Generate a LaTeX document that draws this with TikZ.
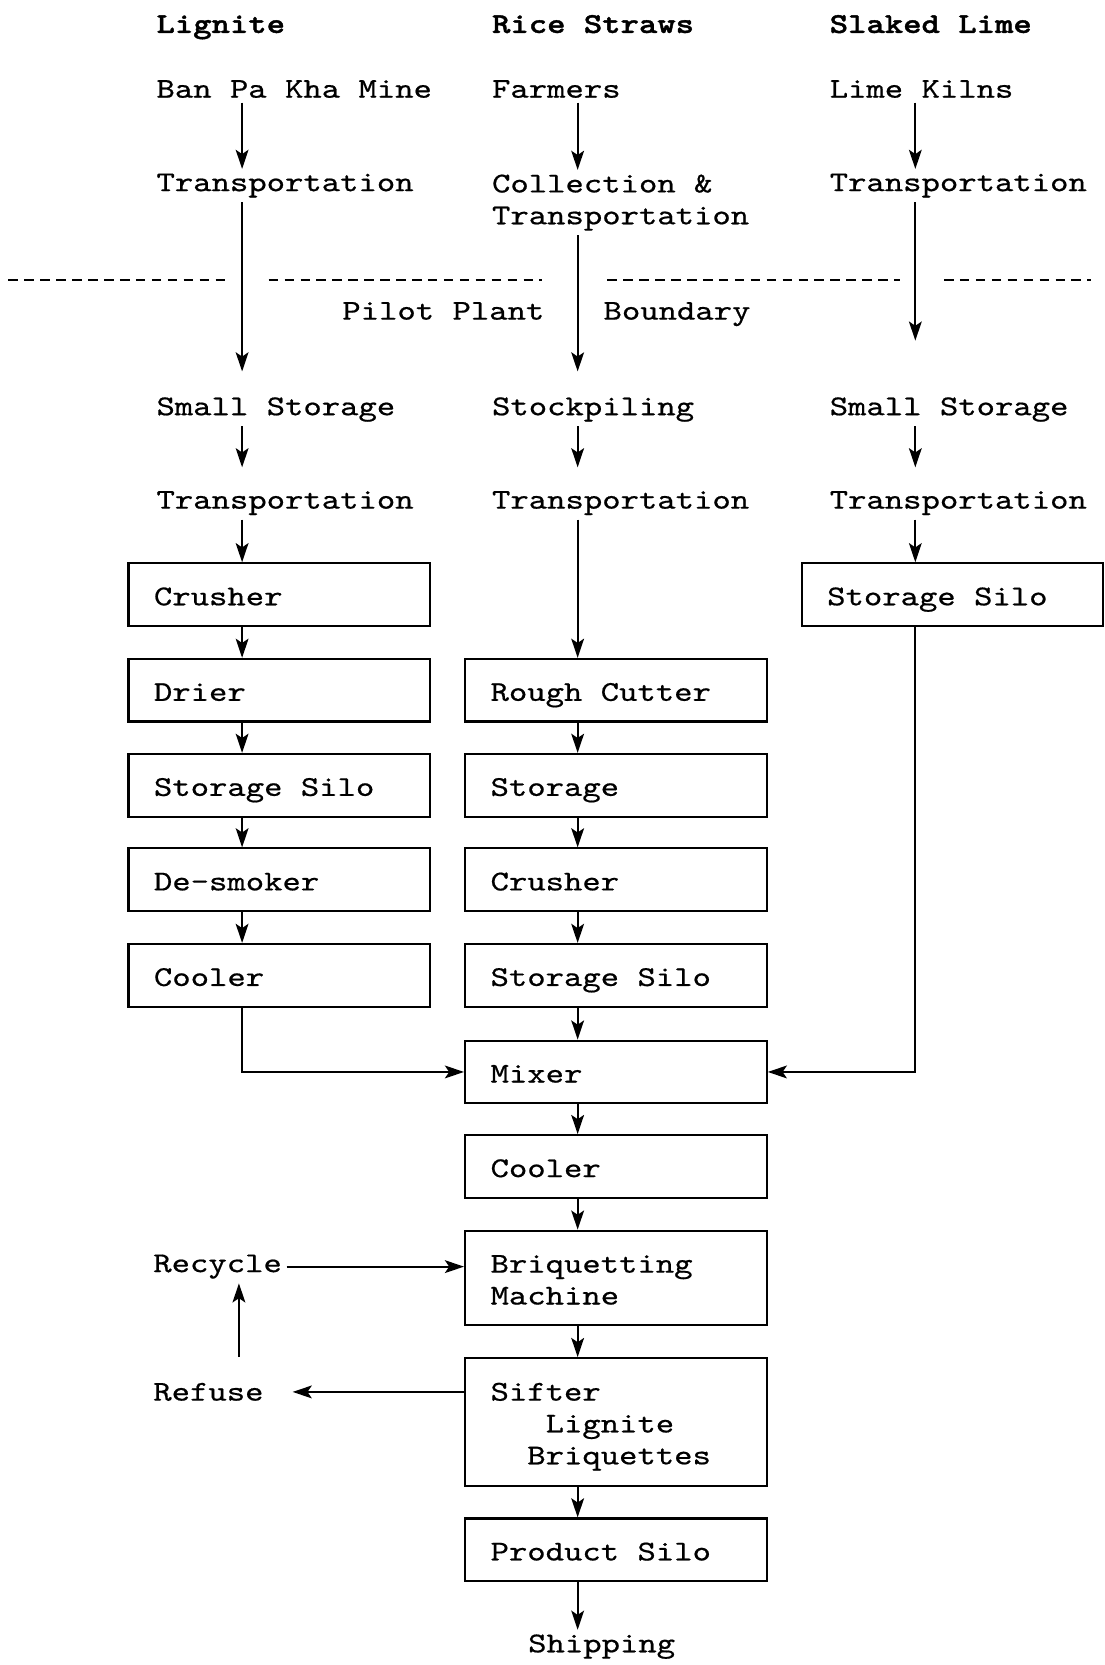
\documentclass[tikz,border=0pt]{standalone}
\usepackage{fontspec}
\setmonofont{lmmono10-regular.otf}[FakeStretch=1.22,FakeBold=0.6]
\newfontfamily\ttlfont{lmmonolt10-bold.otf}[FakeStretch=1.22,FakeBold=1.4]
\usetikzlibrary{arrows.meta}
\newcommand{\txf}{\ttfamily\fontsize{13.5pt}{15pt}\selectfont}
\newcommand{\tbf}{\ttlfont\fontsize{13.5pt}{15pt}\selectfont}
\newcommand{\bt}[1]{\parbox{118pt}{\rule{0pt}{13.5pt}#1\rule[-3.5pt]{0pt}{3.5pt}}}
\begin{document}
\begin{tikzpicture}[x=0.5pt,y=-0.5pt,
  lab/.style={font=\txf, inner sep=2pt, anchor=base west},
  ttl/.style={lab, font=\tbf},
  box/.style={draw, line width=1pt, font=\txf, minimum width=142pt, minimum height=29.5pt,
              inner xsep=12pt, inner ysep=0pt},
  arr/.style={line width=1pt, -{Stealth[length=9pt,width=6pt,inset=2pt]}},
  bnd/.style={line width=0.9pt, dash pattern=on 4.5pt off 3pt}]
\useasboundingbox (0,0) rectangle (1040,1568);
\fill[white] (0,0) rectangle (1040,1568);
% column coordinates
\coordinate (X1) at (228,0);
\coordinate (X2) at (544,0);
\coordinate (X3) at (862,0);
\coordinate (XR) at (225,0);
% titles
\node[ttl] (tl) at (143,31) {Lignite};
\node[ttl] (tr) at (459,31) {Rice Straws};
\node[ttl] (ts) at (777,31) {Slaked Lime};
% sources
\node[lab] (a1) at (143,92) {Ban Pa Kha Mine};
\node[lab] (b1) at (459,92) {Farmers};
\node[lab] (c1) at (777,92) {Lime Kilns};
\node[lab] (a2) at (143,180) {Transportation};
\node[lab, anchor=north west, align=left] (b2) at (459,160) {Collection \&\\Transportation};
\node[lab] (c2) at (777,180) {Transportation};
% boundary
\draw[bnd] (8,264) -- (214,264);
\draw[bnd] (253,264) -- (510,264);
\draw[bnd] (572,264) -- (848,264);
\draw[bnd] (889,264) -- (1027,264);
\node[lab] (pp) at (318,301) {Pilot Plant};
\node[lab] (bd) at (564,301) {Boundary};
% storage rows
\node[lab] (a3) at (143,391) {Small Storage};
\node[lab] (b3) at (459,391) {Stockpiling};
\node[lab] (c3) at (777,391) {Small Storage};
\node[lab] (a4) at (143,479) {Transportation};
\node[lab] (b4) at (459,479) {Transportation};
\node[lab] (c4) at (777,479) {Transportation};
% boxes column 1
\node[box] (crA) at (263,560) {\bt{Crusher}};
\node[box] (drA) at (263,650) {\bt{Drier}};
\node[box] (ssA) at (263,739.5) {\bt{Storage Silo}};
\node[box] (dsA) at (263,828.5) {\bt{De-smoker}};
\node[box] (coA) at (263,918.5) {\bt{Cooler}};
% boxes column 2
\node[box] (rcB) at (580,650) {\bt{Rough Cutter}};
\node[box] (stB) at (580,739.5) {\bt{Storage}};
\node[box] (crB) at (580,828.5) {\bt{Crusher}};
\node[box] (ssB) at (580,918.5) {\bt{Storage Silo}};
\node[box] (mx) at (580,1009.5) {\bt{Mixer}};
\node[box] (co) at (580,1098.5) {\bt{Cooler}};
\node[box, minimum height=44.5pt] (bq) at (580,1203.5) {\bt{Briquetting\\Machine}};
\node[box, minimum height=60pt] (sf) at (580,1339) {\bt{Sifter\\\phantom{XXX}Lignite\\\phantom{XX}Briquettes}};
\node[box] (ps) at (580,1459.5) {\bt{Product Silo}};
% box column 3
\node[box] (ssC) at (897,560) {\bt{Storage Silo}};
% side texts
\node[lab] (rcy) at (140,1198) {Recycle};
\node[lab] (rfs) at (140,1319) {Refuse};
\node[lab] (shp) at (493,1556) {Shipping};
% arrows top
\draw[arr] (a1.south -| X1) -- (a2.north -| X1);
\draw[arr] (b1.south -| X2) -- (b2.north -| X2);
\draw[arr] (c1.south -| X3) -- (c2.north -| X3);
\draw[arr, shorten >=10pt] (a2.south -| X1) -- (a3.north -| X1);
\draw[arr, shorten >=10pt] (b2.south -| X2) -- (b3.north -| X2);
\draw[arr, shorten >=24.5pt] (c2.south -| X3) -- (c3.north -| X3);
\draw[arr, shorten >=9pt] (a3.south -| X1) -- (a4.north -| X1);
\draw[arr, shorten >=9pt] (b3.south -| X2) -- (b4.north -| X2);
\draw[arr, shorten >=9pt] (c3.south -| X3) -- (c4.north -| X3);
\draw[arr] (a4.south -| X1) -- (crA.north -| X1);
\draw[arr] (b4.south -| X2) -- (rcB.north -| X2);
\draw[arr] (c4.south -| X3) -- (ssC.north -| X3);
% column 1 chain
\draw[arr] (crA.south -| X1) -- (drA.north -| X1);
\draw[arr] (drA.south -| X1) -- (ssA.north -| X1);
\draw[arr] (ssA.south -| X1) -- (dsA.north -| X1);
\draw[arr] (dsA.south -| X1) -- (coA.north -| X1);
% column 2 chain
\draw[arr] (rcB.south -| X2) -- (stB.north -| X2);
\draw[arr] (stB.south -| X2) -- (crB.north -| X2);
\draw[arr] (crB.south -| X2) -- (ssB.north -| X2);
\draw[arr] (ssB.south -| X2) -- (mx.north -| X2);
\draw[arr] (mx.south -| X2) -- (co.north -| X2);
\draw[arr] (co.south -| X2) -- (bq.north -| X2);
\draw[arr] (bq.south -| X2) -- (sf.north -| X2);
\draw[arr] (sf.south -| X2) -- (ps.north -| X2);
\draw[arr] (ps.south -| X2) -- (shp.north -| X2);
% merges into mixer
\draw[arr] (coA.south -| X1) |- (mx.west);
\draw[arr] (ssC.south -| X3) |- (mx.east);
% recycle loop
\draw[arr] (rcy.east) -- (rcy.east -| bq.west);
\draw[arr, shorten >=11.5pt] (rfs.east -| sf.west) -- (rfs.east);
\draw[arr, shorten <=10pt] (rfs.north -| XR) -- (rcy.south -| XR);
\end{tikzpicture}
\end{document}
